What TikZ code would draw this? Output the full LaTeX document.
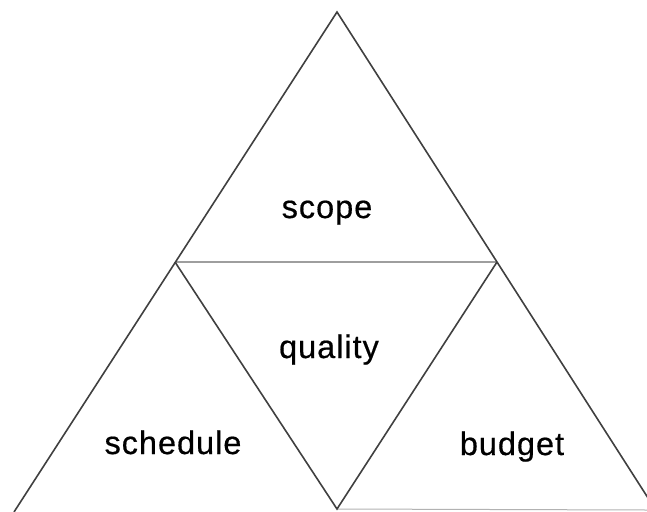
\documentclass[tikz,border=0pt]{standalone}
\usepackage{fontspec}
\setmainfont[LetterSpace=3,FakeBold=0.5]{Liberation Sans}
\begin{document}
\begin{tikzpicture}[x=1pt,y=-1pt,
  side/.style={draw=black!75, line width=1.6pt, line join=miter},
  midline/.style={draw=black!38, line width=1.6pt},
  baseline/.style={draw=black!30, line width=1pt},
  lbl/.style={font=\fontsize{32.5}{36}\selectfont, anchor=base, text=black, inner sep=0pt}]
\useasboundingbox (0,0) rectangle (647,511);
\clip (0,0) rectangle (647,511);
\coordinate (A) at (337,12);
\coordinate (L) at (175,262);
\coordinate (R) at (497,262);
\coordinate (B) at (337,509);
\coordinate (BL) at (14,512);
\coordinate (BR) at (657,512);
\coordinate (BE) at (647,510);
\draw[midline] (L) -- (R);
\draw[baseline] (B) -- (BE);
\draw[side] (BL) -- (A) -- (BR);
\draw[side] (L) -- (B) -- (R);
\node[lbl] (scope) at (327,218) {scope};
\node[lbl] (quality) at (329,358) {quality};
\node[lbl] (schedule) at (173,454) {schedule};
\node[lbl] (budget) at (512,455) {budget};
\end{tikzpicture}
\end{document}
